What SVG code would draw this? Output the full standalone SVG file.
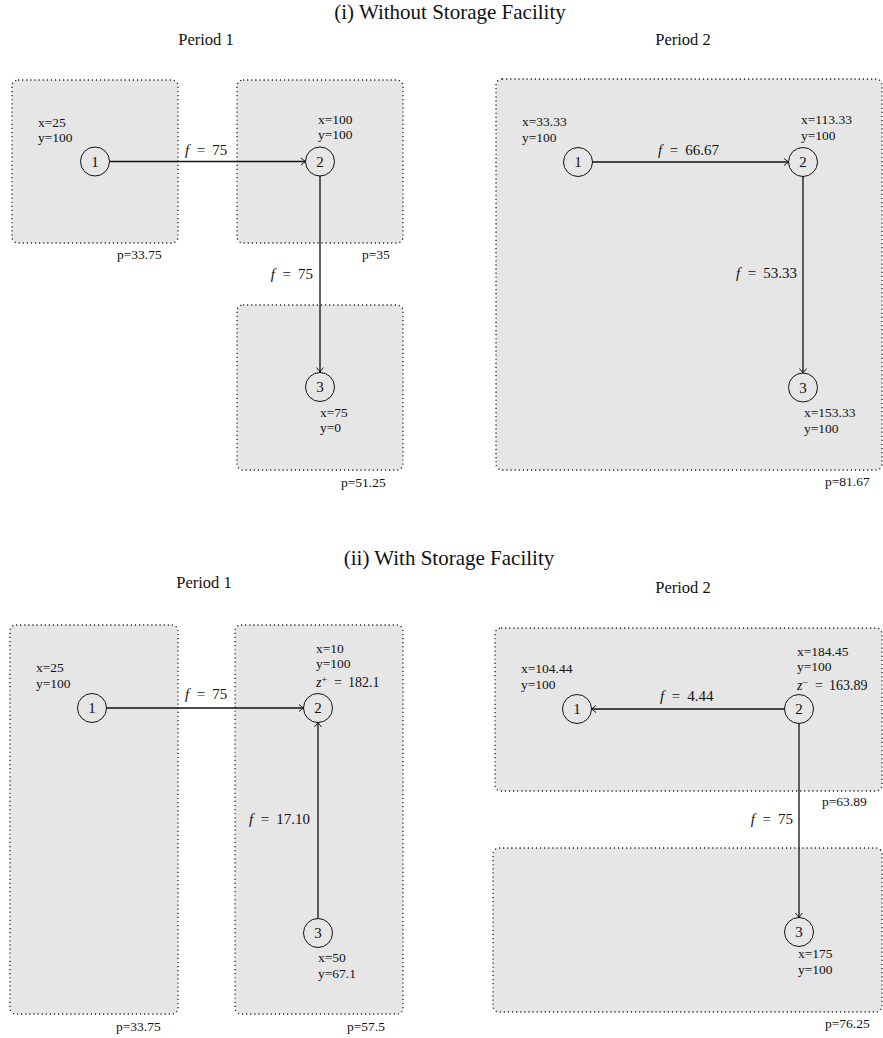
<svg xmlns="http://www.w3.org/2000/svg" width="883" height="1038" viewBox="0 0 883 1038">
<style>
text{font-family:"Liberation Serif","Times New Roman",serif;fill:#111}
.title{font-size:21px;text-anchor:middle}
.per{font-size:16.5px;text-anchor:middle}
.lb{font-size:13.5px}
.m{font-size:15px}
.mz{font-size:14px}
.it{font-style:italic}
.box{fill:#e6e6e6;stroke:#222;stroke-width:1.3;stroke-dasharray:1.2 2.9}
.node circle{fill:none;stroke:#111;stroke-width:1}
.node .d{font-size:15px;text-anchor:middle}
.edge{stroke:#111;stroke-width:1.3;fill:none;marker-end:url(#arr)}
</style>
<defs>
<marker id="arr" markerUnits="userSpaceOnUse" markerWidth="12" markerHeight="12" viewBox="-6 -6 12 12" refX="0" refY="0" orient="auto">
<path d="M-4.5,-3.5 Q-1.2,-0.8 0,0 Q-1.2,0.8 -4.5,3.5" fill="none" stroke="#111" stroke-width="1"/>
</marker>
</defs>
<rect width="883" height="1038" fill="#fff"/>
<text class="title" x="450" y="19">(i) Without Storage Facility</text>
<text class="per" x="206" y="45">Period 1</text>
<text class="per" x="683" y="45">Period 2</text>
<text class="title" x="449" y="565">(ii) With Storage Facility</text>
<text class="per" x="204" y="588">Period 1</text>
<text class="per" x="683" y="593">Period 2</text>

<g id="regions">
<rect id="box-a" class="box" x="12" y="80" width="166" height="163" rx="6"/>
<rect id="box-b" class="box" x="237" y="80" width="166" height="163" rx="6"/>
<rect id="box-c" class="box" x="237" y="305" width="166" height="165" rx="6"/>
<rect id="box-d" class="box" x="496" y="79" width="386" height="391" rx="6"/>
<rect id="box-e" class="box" x="10" y="625" width="168" height="389" rx="6"/>
<rect id="box-f" class="box" x="235" y="625" width="168" height="389" rx="6"/>
<rect id="box-g" class="box" x="495" y="628" width="387" height="163" rx="6"/>
<rect id="box-h" class="box" x="493" y="848" width="389" height="164" rx="6"/>
</g>

<g id="connectors">
<line class="edge" x1="109.5" y1="161.5" x2="305.5" y2="161.5"/>
<line class="edge" x1="320" y1="176" x2="320" y2="372"/>
<line class="edge" x1="592.5" y1="162" x2="788.5" y2="162"/>
<line class="edge" x1="803" y1="176.5" x2="803" y2="373"/>
<line class="edge" x1="106.5" y1="708" x2="303.5" y2="708"/>
<line class="edge" x1="318" y1="918.5" x2="318" y2="722.5"/>
<line class="edge" x1="784.5" y1="709" x2="591.5" y2="709"/>
<line class="edge" x1="799" y1="723.5" x2="799" y2="917.5"/>
</g>

<g id="edge-labels">
<text class="m" x="185" y="155"><tspan class="it">f</tspan><tspan dx="7.5">=</tspan><tspan dx="7">75</tspan></text>
<text class="m" x="313" y="279" text-anchor="end"><tspan class="it">f</tspan><tspan dx="7.5">=</tspan><tspan dx="7">75</tspan></text>
<text class="m" x="658" y="155"><tspan class="it">f</tspan><tspan dx="7.5">=</tspan><tspan dx="7">66.67</tspan></text>
<text class="m" x="797" y="278" text-anchor="end"><tspan class="it">f</tspan><tspan dx="7.5">=</tspan><tspan dx="7">53.33</tspan></text>
<text class="m" x="185" y="699"><tspan class="it">f</tspan><tspan dx="7.5">=</tspan><tspan dx="7">75</tspan></text>
<text class="m" x="310" y="824" text-anchor="end"><tspan class="it">f</tspan><tspan dx="7.5">=</tspan><tspan dx="7">17.10</tspan></text>
<text class="m" x="660" y="701"><tspan class="it">f</tspan><tspan dx="7.5">=</tspan><tspan dx="7">4.44</tspan></text>
<text class="m" x="793" y="824" text-anchor="end"><tspan class="it">f</tspan><tspan dx="7.5">=</tspan><tspan dx="7">75</tspan></text>
</g>

<g id="n1-p1-i" class="node"><circle cx="95" cy="161.5" r="14.5"/><text class="d" x="95" y="166.5">1</text>
<text class="lb" x="38" y="127">x=25</text><text class="lb" x="38" y="142">y=100</text></g>
<g id="n2-p1-i" class="node"><circle cx="320" cy="161.5" r="14.5"/><text class="d" x="320" y="166.5">2</text>
<text class="lb" x="318" y="124">x=100</text><text class="lb" x="318" y="139">y=100</text></g>
<g id="n3-p1-i" class="node"><circle cx="320" cy="387" r="14.5"/><text class="d" x="320" y="392">3</text>
<text class="lb" x="320" y="417">x=75</text><text class="lb" x="320" y="432">y=0</text></g>

<g id="n1-p2-i" class="node"><circle cx="578" cy="162" r="14.5"/><text class="d" x="578" y="167">1</text>
<text class="lb" x="522" y="126">x=33.33</text><text class="lb" x="522" y="142">y=100</text></g>
<g id="n2-p2-i" class="node"><circle cx="803" cy="162" r="14.5"/><text class="d" x="803" y="167">2</text>
<text class="lb" x="801" y="124">x=113.33</text><text class="lb" x="801" y="140">y=100</text></g>
<g id="n3-p2-i" class="node"><circle cx="803" cy="387.5" r="14.5"/><text class="d" x="803" y="392.5">3</text>
<text class="lb" x="804" y="417">x=153.33</text><text class="lb" x="804" y="433">y=100</text></g>

<g id="n1-p1-ii" class="node"><circle cx="92" cy="708" r="14.5"/><text class="d" x="92" y="713">1</text>
<text class="lb" x="36" y="672">x=25</text><text class="lb" x="36" y="688">y=100</text></g>
<g id="n2-p1-ii" class="node"><circle cx="318" cy="708" r="14.5"/><text class="d" x="318" y="713">2</text>
<text class="lb" x="316" y="653">x=10</text><text class="lb" x="316" y="668">y=100</text>
<text class="mz" x="316" y="687"><tspan class="it">z</tspan><tspan dy="-4.5" font-size="10">+</tspan><tspan dy="4.5" dx="7">=</tspan><tspan dx="6">182.1</tspan></text></g>
<g id="n3-p1-ii" class="node"><circle cx="318" cy="933" r="14.5"/><text class="d" x="318" y="938">3</text>
<text class="lb" x="318" y="962">x=50</text><text class="lb" x="318" y="978">y=67.1</text></g>

<g id="n1-p2-ii" class="node"><circle cx="577" cy="709" r="14.5"/><text class="d" x="577" y="714">1</text>
<text class="lb" x="521" y="673">x=104.44</text><text class="lb" x="521" y="689">y=100</text></g>
<g id="n2-p2-ii" class="node"><circle cx="799" cy="709" r="14.5"/><text class="d" x="799" y="714">2</text>
<text class="lb" x="797" y="656">x=184.45</text><text class="lb" x="797" y="671">y=100</text>
<text class="mz" x="797" y="690"><tspan class="it">z</tspan><tspan dy="-4.5" font-size="10">−</tspan><tspan dy="4.5" dx="7">=</tspan><tspan dx="6">163.89</tspan></text></g>
<g id="n3-p2-ii" class="node"><circle cx="799" cy="932" r="14.5"/><text class="d" x="799" y="937">3</text>
<text class="lb" x="798" y="958">x=175</text><text class="lb" x="798" y="974">y=100</text></g>

<g id="prices">
<text class="lb" x="117" y="259">p=33.75</text>
<text class="lb" x="362" y="259">p=35</text>
<text class="lb" x="341" y="487">p=51.25</text>
<text class="lb" x="825" y="486">p=81.67</text>
<text class="lb" x="116" y="1031">p=33.75</text>
<text class="lb" x="347" y="1031">p=57.5</text>
<text class="lb" x="822" y="806">p=63.89</text>
<text class="lb" x="825" y="1028">p=76.25</text>
</g>
</svg>
